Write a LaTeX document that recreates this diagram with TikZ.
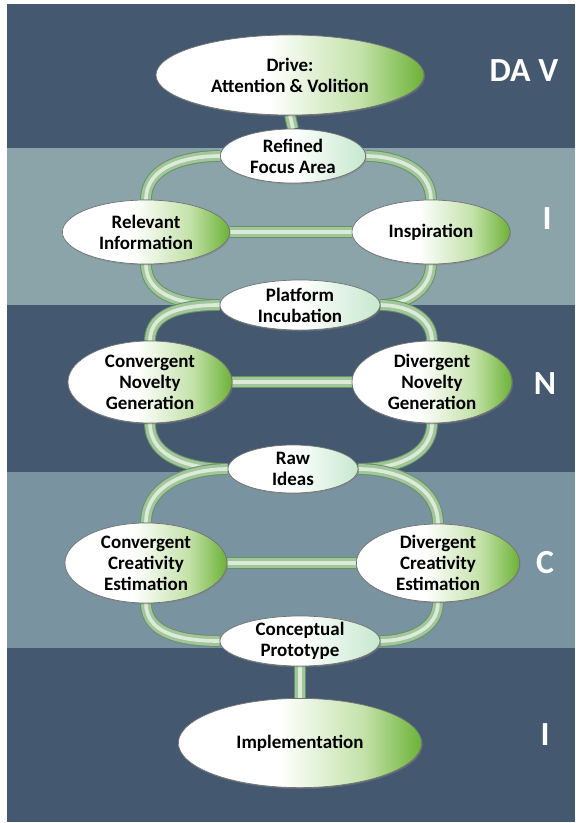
\documentclass[tikz,border=0pt]{standalone}
\usepackage{fontspec}
\setmainfont{Carlito}
\usetikzlibrary{shapes,shadows}
\definecolor{bandnavy}{RGB}{68,88,112}
\definecolor{bandgrey}{RGB}{139,164,170}
\definecolor{bandteal}{RGB}{121,148,160}
\definecolor{eggmid}{RGB}{196,226,170}
\definecolor{egggreen}{RGB}{108,178,54}
\definecolor{palemint}{RGB}{198,232,206}
\definecolor{tubeedge}{RGB}{105,145,100}
\definecolor{tubegreen}{RGB}{160,198,155}
\definecolor{tubelight}{RGB}{220,234,216}

% egg fill: white on the left, green towards the right
\pgfdeclarehorizontalshading{eggshade}{100bp}{color(0bp)=(white); color(25bp)=(white); color(46bp)=(white); color(63bp)=(eggmid); color(75bp)=(egggreen); color(100bp)=(egggreen)}
\pgfdeclarehorizontalshading{paleshade}{100bp}{color(0bp)=(white); color(25bp)=(white); color(50bp)=(white); color(75bp)=(palemint); color(100bp)=(palemint)}

\pgfdeclarelayer{bands}
\pgfdeclarelayer{tubes}
\pgfsetlayers{bands,tubes,main}

\tikzstyle{egg} = [ellipse, draw=black!55, line width=0.5pt, shading=eggshade, align=center, inner sep=-5pt, font=\fontsize{13.5}{15}\selectfont\bfseries, drop shadow={opacity=0.45, shadow xshift=0.8pt, shadow yshift=-1pt}]
\tikzstyle{hub} = [egg, shading=paleshade]
\tikzstyle{tube} = [line width=2.6pt, draw=tubelight, preaction={draw=tubeedge, line width=8.4pt}, preaction={draw=tubegreen, line width=7pt}]
\tikzstyle{stage} = [text=white, font=\fontsize{24}{24}\selectfont\bfseries]

\begin{document}
\begin{tikzpicture}[x=0.025cm, y=-0.025cm]
\useasboundingbox (0,0) rectangle (575,823);
% horizontal bands
\begin{pgfonlayer}{bands}
\fill[bandnavy] (7,4) rectangle (575,148);
\fill[bandgrey] (7,148) rectangle (575,305);
\fill[bandnavy] (7,305) rectangle (575,472);
\fill[bandteal] (7,472) rectangle (575,648);
\fill[bandnavy] (7,648) rectangle (575,822);
\end{pgfonlayer}

% stages
\node[egg, minimum width=6.7cm, minimum height=2cm] (drive) at (290,75) {Drive:\\Attention \& Volition};
\node[hub, minimum width=3.63cm, minimum height=1.35cm] (focus) at (293,156) {Refined\\Focus Area};
\node[egg, minimum width=4.18cm, minimum height=1.6cm] (relinfo) at (146,232) {Relevant\\Information};
\node[egg, minimum width=3.95cm, minimum height=1.6cm] (inspire) at (431,232) {Inspiration};
\node[hub, minimum width=4cm, minimum height=1.25cm] (platform) at (300,305) {Platform\\Incubation};
\node[egg, minimum width=4.1cm, minimum height=2.05cm] (convnov) at (150,382) {Convergent\\Novelty\\Generation};
\node[egg, minimum width=4cm, minimum height=2.05cm] (divnov) at (432,382) {Divergent\\Novelty\\Generation};
\node[hub, minimum width=3.25cm, minimum height=1.2cm] (raw) at (293,469) {Raw\\Ideas};
\node[egg, minimum width=4.05cm, minimum height=2cm] (convcre) at (146,563) {Convergent\\Creativity\\Estimation};
\node[egg, minimum width=4.08cm, minimum height=1.95cm] (divcre) at (438,563) {Divergent\\Creativity\\Estimation};
\node[hub, minimum width=4cm, minimum height=1.25cm] (proto) at (300,641) {Conceptual\\Prototype};
\node[egg, minimum width=6.08cm, minimum height=2.23cm] (impl) at (300,743) {Implementation};

% letters on the right
\node[stage] (sdav) at (524,71) {DA V};
\node[stage] (si1) at (547,219) {I};
\node[stage] (sn) at (545,384) {N};
\node[stage] (sc) at (545,563) {C};
\node[stage] (si2) at (545,735) {I};

% tubes
\begin{pgfonlayer}{tubes}
\draw[tube] (drive.south) -- (focus.north);
\draw[tube] (focus.west) to[out=180,in=90] (relinfo.north);
\draw[tube] (focus.east) to[out=0,in=90] (inspire.north);
\draw[tube] (relinfo.east) -- (inspire.west);
\draw[tube] (relinfo.south) to[out=270,in=180] (platform.west);
\draw[tube] (inspire.south) to[out=270,in=0] (platform.east);
\draw[tube] (platform.west) to[out=180,in=90] (convnov.north);
\draw[tube] (platform.east) to[out=0,in=90] (divnov.north);
\draw[tube] (convnov.east) -- (divnov.west);
\draw[tube] (convnov.south) to[out=270,in=180] (raw.west);
\draw[tube] (divnov.south) to[out=270,in=0] (raw.east);
\draw[tube] (raw.west) to[out=180,in=90] (convcre.north);
\draw[tube] (raw.east) to[out=0,in=90] (divcre.north);
\draw[tube] (convcre.east) -- (divcre.west);
\draw[tube] (convcre.south) to[out=270,in=180] (proto.west);
\draw[tube] (divcre.south) to[out=270,in=0] (proto.east);
\draw[tube] (proto.south) -- (impl.north);
\end{pgfonlayer}
\end{tikzpicture}
\end{document}
